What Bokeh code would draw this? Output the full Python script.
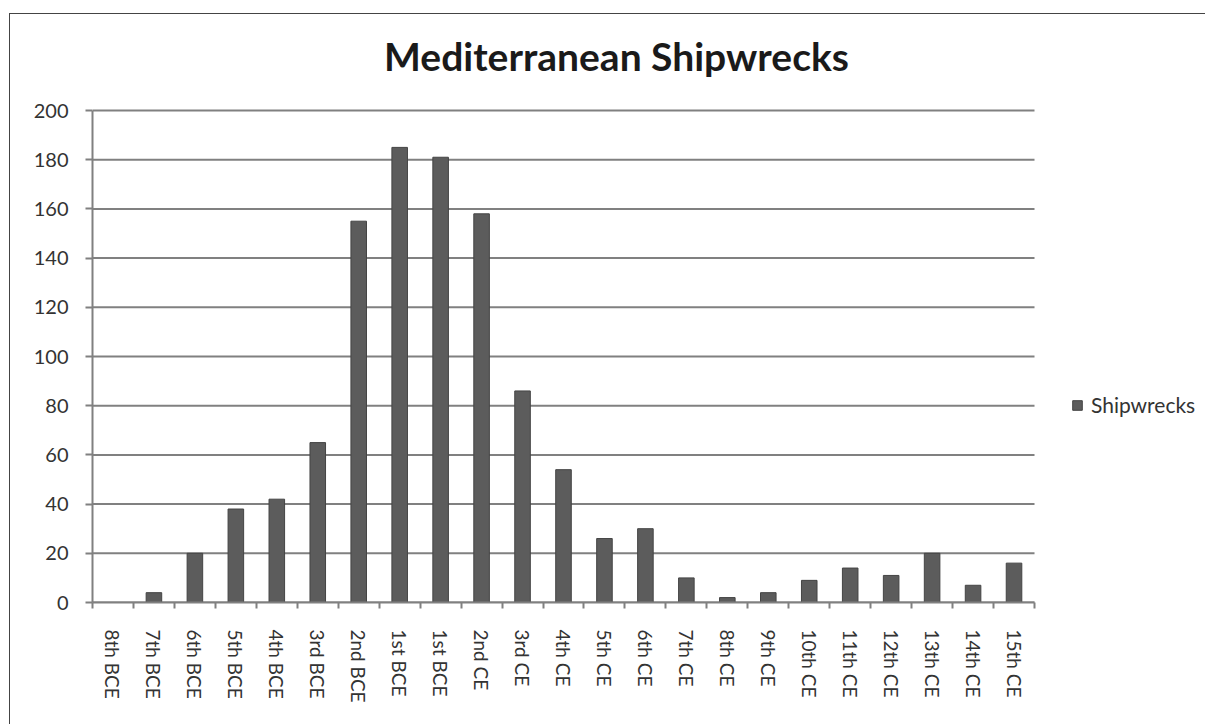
from bokeh.plotting import figure
from bokeh.models import Range1d, FixedTicker, Legend, LegendItem, ColumnDataSource, Label
from bokeh.embed import file_html
from bokeh.resources import INLINE

categories = ["8th BCE", "7th BCE", "6th BCE", "5th BCE", "4th BCE", "3rd BCE", "2nd BCE",
              "1st BCE", "1st BCE", "2nd CE", "3rd CE", "4th CE", "5th CE", "6th CE", "7th CE",
              "8th CE", "9th CE", "10th CE", "11th CE", "12th CE", "13th CE", "14th CE", "15th CE"]
shipwrecks = [0, 4, 20, 38, 42, 65, 155, 185, 181, 158, 86, 54, 26, 30, 10, 2, 4, 9, 14, 11, 20, 7, 16]
y_ticks = [0, 20, 40, 60, 80, 100, 120, 140, 160, 180, 200]
title_text = "Mediterranean Shipwrecks"
series_name = "Shipwrecks"

n = len(categories)
positions = list(range(n))
boundaries = [i - 0.5 for i in range(n + 1)]

# page-pixel layout of the chart area (canvas starts at page x=10, y=14)
canvas_x, canvas_y = 10, 14
axis_left_px, axis_right_px = 92, 1034
y_top_px, y_bottom_px = 110, 602
W, H = 1196, 711
frame_right_px = canvas_x + W

px_per_cat = (axis_right_px - axis_left_px) / n
px_per_unit = (y_bottom_px - y_top_px) / (y_ticks[-1] - y_ticks[0])
x_end = -0.5 + (frame_right_px - axis_left_px) / px_per_cat
y_end = y_ticks[-1] + (y_top_px - canvas_y) / px_per_unit


def px_to_x(px):
    return -0.5 + (px - axis_left_px) / px_per_cat


def px_to_y(py):
    return (y_bottom_px - py) / px_per_unit


src = ColumnDataSource(dict(x=positions, top=shipwrecks))
grid_src = ColumnDataSource(dict(x0=[-0.5] * len(y_ticks), x1=[n - 0.5] * len(y_ticks),
                                 y=y_ticks))

p = figure(width=W, height=H, output_backend="svg", toolbar_location=None,
           x_range=Range1d(-0.5, x_end), y_range=Range1d(0, y_end),
           min_border_left=axis_left_px - canvas_x, min_border_right=0, min_border_top=0,
           min_border_bottom=canvas_y + H - y_bottom_px,
           margin=(13, 0, 0, 9))
p.styles = {"border-left": "1px solid #444", "border-top": "1px solid #444"}
p.outline_line_color = None
p.background_fill_color = "white"
p.xgrid.grid_line_color = None
p.ygrid.grid_line_color = None

p.segment(x0="x0", x1="x1", y0="y", y1="y", source=grid_src, line_color="#808080", line_width=2)
r = p.vbar(x="x", top="top", width=0.38, source=src, fill_color="#5c5c5c", line_color="#444444", line_width=1)

title = Label(x=px_to_x(616), y=px_to_y(55), text=title_text, text_align="center",
              text_baseline="middle", text_font="Lato", text_font_size="39px",
              text_font_style="bold", text_color="#1a1a1a")
p.add_layout(title)

# x axis
xa = p.xaxis[0]
xa.bounds = (-0.5, n - 0.5)
xa.ticker = FixedTicker(ticks=positions, minor_ticks=boundaries)
xa.major_label_overrides = {i: c for i, c in enumerate(categories)}
xa.major_label_orientation = "vertical"
xa.major_tick_out = 0
xa.major_tick_in = 0
xa.minor_tick_out = 6
xa.minor_tick_in = 0
xa.minor_tick_line_color = "#808080"
xa.minor_tick_line_width = 2
xa.axis_line_color = "#808080"
xa.axis_line_width = 2
xa.major_label_standoff = 21
xa.major_label_text_font = "Lato"
xa.major_label_text_font_size = "19px"
xa.major_label_text_color = "#333333"

# y axis
ya = p.yaxis[0]
ya.bounds = (y_ticks[0], y_ticks[-1])
ya.ticker = FixedTicker(ticks=y_ticks)
ya.minor_tick_line_color = None
ya.major_tick_out = 7
ya.major_tick_in = 0
ya.major_tick_line_color = "#808080"
ya.major_tick_line_width = 2
ya.axis_line_color = "#808080"
ya.axis_line_width = 2
ya.major_label_standoff = 17
ya.major_label_text_font = "Lato"
ya.major_label_text_font_size = "20px"
ya.major_label_text_color = "#333333"

legend = Legend(items=[LegendItem(label=series_name, renderers=[r])],
                location=(979, 185), orientation="vertical")
legend.padding = 0
legend.margin = 0
legend.border_line_color = None
legend.background_fill_alpha = 0
legend.glyph_width = 12
legend.glyph_height = 12
legend.label_height = 20
legend.label_standoff = 8
legend.label_text_font = "Lato"
legend.label_text_font_size = "21px"
legend.label_text_color = "#333333"
p.add_layout(legend, "center")

open("out.html", "w").write(file_html(p, INLINE))
